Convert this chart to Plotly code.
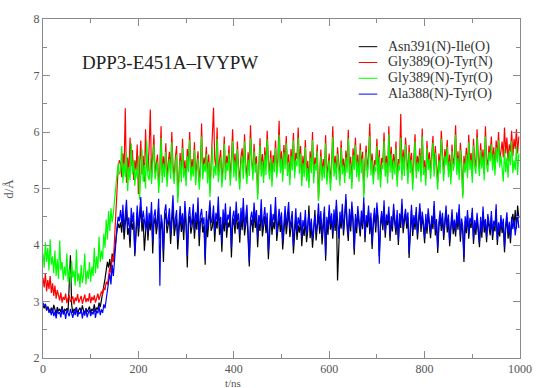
import plotly.graph_objects as go

# d / Angstrom, one sample every 2.5 ns (t = 0 ... 997.5 ns)
STEP_NS = 2.5

asn391_ile = [
    2.93, 2.88, 2.96, 2.84, 2.91, 2.86, 2.82, 2.89, 2.80, 2.94,
    2.85, 2.78, 2.90, 2.83, 2.87, 2.81, 2.92, 2.79, 2.86, 2.84,
    2.88, 2.82, 3.30, 3.82, 2.95, 2.80, 2.87, 2.83, 2.90, 2.78,
    2.85, 2.89, 2.81, 2.93, 2.84, 2.79, 2.88, 2.82, 2.86, 2.91,
    2.80, 2.87, 2.84, 2.95, 2.82, 2.89, 2.86, 2.98, 2.90, 3.02,
    3.10, 3.25, 3.40, 3.55, 3.70, 3.60,
    3.75, 3.55, 3.85, 3.70, 3.92, 4.10, 4.25, 4.38, 4.30,
    4.40, 4.22, 4.55, 4.10, 4.38, 4.62, 4.18, 4.30, 3.95, 4.48,
    4.27, 4.42, 3.80, 4.33, 4.58, 4.15, 4.40, 4.68, 4.24, 4.46,
    3.90, 4.31, 4.52, 4.08, 4.43, 4.26, 4.60, 3.85, 4.37, 4.49,
    4.19, 4.35, 4.66, 4.12, 4.41, 4.28, 3.70, 4.45, 4.57, 4.21,
    4.34, 4.50, 4.02, 4.39, 4.70, 4.16, 4.36, 4.47, 3.92, 4.30,
    4.53, 4.23, 4.42, 4.09, 4.61, 4.32, 3.60, 4.38, 4.51, 4.20,
    4.33, 4.56, 4.11, 4.44, 4.27, 4.65, 3.98, 4.40, 4.48, 4.22,
    4.35, 3.65, 4.46, 4.14, 4.41, 4.63, 4.25, 4.32, 4.54, 4.06,
    4.43, 4.29, 4.69, 4.18, 4.37, 3.88, 4.49, 4.24, 4.58, 4.13,
    4.40, 4.31, 4.52, 3.78, 4.34, 4.47, 4.20, 4.60, 4.28, 4.42,
    4.04, 4.50, 4.26, 4.67, 4.17, 4.38, 4.55, 4.10, 3.62, 4.33,
    4.45, 4.22, 4.59, 4.30, 4.48, 3.96, 4.39, 4.25, 4.64, 4.15,
    4.36, 4.51, 4.21, 4.43, 3.75, 4.32, 4.57, 4.18, 4.41, 4.28,
    4.68, 4.07, 4.34, 4.49, 4.23, 4.44, 3.92, 4.30, 4.53, 4.19,
    4.37, 4.60, 4.14, 4.31, 4.46, 3.85, 4.27, 4.50, 4.09, 4.35,
    4.22, 4.44, 3.98, 4.30, 4.16, 4.48, 4.05, 4.25, 4.70, 4.12,
    4.35, 3.95, 4.24, 4.62, 4.08, 4.39, 4.55, 4.20, 4.47, 4.01,
    4.33, 4.58, 3.72, 4.41, 4.18, 4.60, 4.27, 4.45, 4.11, 4.52,
    4.25, 4.69, 3.37, 4.03, 4.48, 4.29, 4.62, 4.17, 4.43, 4.80,
    4.31, 4.07, 4.55, 4.24, 4.66, 4.38, 3.83, 4.46, 4.21, 4.58,
    4.36, 4.15, 4.50, 4.28, 4.73, 4.05, 4.44, 4.31, 4.61, 4.19,
    4.47, 3.93, 4.36, 4.56, 4.22, 4.65, 4.40, 3.80, 4.33, 4.51,
    4.26, 4.68, 4.13, 4.45, 4.35, 4.57, 4.07, 4.42, 4.24, 4.63,
    4.38, 4.18, 4.53, 4.00, 4.47, 4.30, 4.71, 4.21, 4.41, 4.55,
    4.29, 4.49, 3.77, 4.36, 4.62, 4.16, 4.44, 4.27, 4.58, 4.10,
    4.39, 4.65, 4.23, 4.50, 4.32, 4.03, 4.46, 4.20, 4.56, 4.34,
    4.12, 4.43, 4.28, 4.69, 4.17, 4.37, 3.86, 4.31, 4.52, 4.25,
    4.48, 4.09, 4.40, 4.61, 4.22, 4.45, 3.98, 4.33, 4.54, 4.19,
    4.36, 4.15, 4.49, 4.27, 4.63, 4.06, 4.38, 4.24, 3.70, 4.42,
    4.21, 4.53, 4.11, 4.39, 4.30, 4.57, 4.02, 4.35, 4.18, 4.48,
    4.26, 3.96, 4.41, 4.13, 4.59, 4.22, 4.37, 4.05, 4.46, 4.29,
    4.17, 4.51, 4.09, 4.34, 4.24, 4.63, 4.00, 4.31, 4.15, 4.44,
    4.21, 4.38, 3.87, 4.27, 4.49, 4.11, 4.32, 4.03, 4.41, 4.55,
    4.35, 4.62, 4.29, 4.70, 4.48,
]

gly389_o_tyr_n = [
    3.42, 3.25, 3.50, 3.18, 3.38, 3.22, 3.45, 3.15, 3.32, 3.10,
    3.28, 3.05, 3.20, 3.12, 3.02, 3.16, 2.98, 3.08, 3.03, 3.14,
    2.97, 3.06, 3.11, 2.99, 3.04, 3.09, 2.95, 3.07, 3.01, 3.13,
    2.98, 3.05, 3.10, 2.96, 3.03, 3.12, 2.99, 3.06, 3.00, 3.15,
    2.97, 3.08, 3.02, 3.11, 2.98, 3.05, 3.14, 3.03, 3.09, 3.18,
    3.12, 3.25, 3.20, 3.35, 3.30, 3.45,
    3.60, 3.50, 3.80, 3.70, 4.10, 4.60, 5.10, 5.35, 5.50,
    5.45, 5.20, 5.62, 5.35, 6.42, 5.10, 5.55, 5.28, 5.90, 5.40,
    5.68, 5.15, 5.50, 5.32, 5.78, 4.90, 5.44, 5.85, 5.25, 5.58,
    5.12, 6.05, 5.38, 5.30, 5.72, 6.40, 5.18, 5.52, 5.95, 5.27,
    5.48, 5.60, 5.05, 5.36, 6.10, 5.22, 5.57, 5.33, 5.80, 5.14,
    5.46, 5.65, 5.29, 6.00, 5.41, 5.20, 5.54, 5.75, 4.85, 5.37,
    5.63, 5.24, 5.88, 5.31, 5.50, 5.16, 5.70, 5.43, 6.00, 5.26,
    5.52, 5.34, 5.82, 5.19, 5.47, 5.66, 5.09, 5.39, 6.15, 5.28,
    5.55, 5.42, 5.74, 5.21, 5.60, 4.95, 5.45, 5.87, 6.43, 5.53,
    5.36, 6.08, 5.23, 5.49, 5.68, 5.13, 5.40, 5.92, 5.27, 5.58,
    5.44, 5.76, 5.17, 5.51, 6.05, 5.32, 5.62, 5.25, 5.83, 5.38,
    5.10, 5.56, 5.71, 5.29, 5.96, 5.43, 5.20, 5.64, 5.35, 6.12,
    5.48, 5.26, 5.79, 5.41, 5.57, 4.90, 5.46, 5.89, 5.33, 5.61,
    5.22, 5.73, 5.37, 6.02, 5.50, 5.28, 5.67, 5.14, 5.59, 5.42,
    5.85, 5.31, 5.54, 6.20, 5.39, 5.66, 5.24, 5.77, 5.47, 5.93,
    5.35, 5.60, 5.18, 5.70, 5.45, 5.98, 5.30, 5.63, 5.52, 6.08,
    5.40, 5.75, 5.15, 5.58, 5.34, 5.86, 5.27, 5.49, 5.12, 5.66,
    5.38, 6.00, 5.21, 5.55, 5.43, 5.78, 4.80, 5.36, 5.69, 5.25,
    5.52, 5.30, 5.94, 5.19, 5.47, 5.62, 5.08, 5.41, 6.10, 5.33,
    5.58, 5.26, 5.73, 5.44, 5.16, 5.85, 5.37, 5.53, 5.22, 5.67,
    5.40, 6.04, 5.29, 5.56, 5.11, 5.71, 5.45, 5.90, 5.32, 5.60,
    5.24, 5.80, 5.39, 5.65, 4.92, 5.48, 5.76, 5.31, 5.57, 6.15,
    5.35, 5.62, 5.19, 5.50, 5.42, 5.88, 5.27, 5.68, 5.13, 5.54,
    5.46, 5.99, 5.33, 5.58, 5.21, 6.10, 5.40, 5.74, 5.28, 5.61,
    5.37, 5.83, 5.15, 5.52, 5.44, 6.32, 5.26, 5.69, 5.34, 5.90,
    5.48, 5.20, 5.77, 5.39, 5.63, 5.09, 5.55, 5.96, 5.30, 5.58,
    5.42, 5.71, 5.23, 6.06, 5.36, 5.50, 5.17, 5.84, 5.45, 5.64,
    5.29, 5.56, 5.93, 5.33, 5.75, 5.41, 5.10, 5.62, 5.38, 6.02,
    5.47, 5.25, 5.70, 5.53, 5.86, 5.32, 5.60, 5.19, 5.78, 5.43,
    5.55, 6.12, 5.36, 5.66, 5.27, 5.81, 5.49, 4.88, 5.58, 5.40,
    5.72, 5.30, 5.95, 5.45, 5.63, 5.22, 5.88, 5.51, 5.38, 6.05,
    5.57, 5.34, 5.80, 5.47, 5.69, 5.26, 6.10, 5.52, 5.41, 5.76,
    5.60, 5.92, 5.44, 5.73, 5.35, 5.85, 5.58, 6.00, 5.49, 5.70,
    5.83, 5.55, 6.08, 5.62, 5.90, 5.48, 5.78, 5.65, 6.02, 5.57,
    5.88, 5.70, 6.05, 5.62, 5.92,
]

gly389_n_tyr_o = [
    3.85, 3.60, 4.05, 3.70, 3.95, 3.55, 4.10, 3.65, 3.80, 3.50,
    3.90, 3.45, 3.75, 3.40, 4.08, 3.55, 3.70, 3.38, 3.62, 3.45,
    3.85, 3.35, 3.58, 3.30, 3.72, 3.42, 3.55, 3.28, 3.92, 3.36,
    3.50, 3.25, 3.65, 3.33, 3.48, 3.85, 3.30, 3.55, 3.40, 3.70,
    3.35, 3.62, 3.45, 3.95, 3.50, 3.80, 3.58, 4.15, 3.70, 3.90,
    3.75, 4.20, 3.95, 4.45, 4.10, 4.60,
    4.25, 4.65, 4.40, 4.55, 4.80, 5.05, 5.30, 5.45, 5.25,
    5.30, 5.75, 5.10, 5.45, 5.20, 5.62, 4.95, 5.38, 5.15, 5.80,
    5.25, 5.50, 5.05, 5.35, 5.18, 5.58, 4.80, 5.28, 5.70, 5.12,
    5.42, 5.00, 5.85, 5.22, 5.15, 5.55, 5.08, 5.40, 5.78, 5.16,
    5.33, 5.48, 4.92, 5.24, 5.90, 5.10, 5.44, 5.20, 5.65, 5.03,
    5.30, 5.52, 5.17, 5.82, 5.27, 5.08, 5.41, 5.60, 4.75, 5.23,
    5.49, 5.11, 5.72, 5.19, 5.36, 5.04, 5.57, 5.29, 5.86, 5.14,
    5.39, 5.21, 5.68, 5.06, 5.34, 5.53, 4.98, 5.26, 5.92, 5.16,
    5.43, 5.29, 5.61, 5.09, 5.47, 4.85, 5.32, 5.74, 5.18, 5.40,
    5.23, 5.88, 5.11, 5.37, 5.55, 5.02, 5.28, 5.79, 5.15, 5.45,
    5.31, 5.63, 5.05, 5.38, 5.84, 5.20, 5.50, 5.13, 5.70, 5.25,
    4.98, 5.42, 5.58, 5.17, 5.83, 5.30, 5.08, 5.51, 5.22, 5.89,
    5.35, 5.14, 5.66, 5.28, 5.44, 4.80, 5.33, 5.76, 5.21, 5.48,
    5.10, 5.60, 5.24, 5.87, 5.37, 5.16, 5.54, 5.03, 5.46, 5.29,
    5.72, 5.19, 5.41, 5.95, 5.27, 5.53, 5.12, 5.64, 5.34, 5.80,
    5.22, 5.47, 5.06, 5.58, 5.32, 5.85, 5.18, 5.50, 5.39, 5.90,
    5.26, 5.62, 5.04, 5.45, 5.20, 5.73, 5.13, 5.36, 5.01, 5.55,
    5.27, 5.86, 5.09, 5.43, 5.31, 5.66, 4.78, 5.24, 5.57, 5.14,
    5.40, 5.18, 5.80, 5.07, 5.35, 5.50, 4.96, 5.29, 5.91, 5.21,
    5.46, 5.15, 5.61, 5.32, 5.05, 5.72, 5.25, 5.41, 5.10, 5.55,
    5.28, 5.89, 5.17, 5.44, 4.99, 5.59, 5.33, 5.77, 5.20, 5.48,
    5.12, 5.68, 5.27, 5.53, 4.82, 5.36, 5.64, 5.19, 5.45, 5.93,
    5.23, 5.50, 5.07, 5.38, 5.30, 5.75, 5.15, 5.56, 5.02, 5.42,
    5.34, 5.84, 5.21, 5.46, 5.09, 5.96, 5.28, 5.62, 5.16, 5.49,
    5.25, 5.71, 5.03, 5.40, 5.32, 5.90, 5.14, 5.57, 5.22, 5.78,
    5.36, 5.08, 5.65, 5.27, 5.51, 4.97, 5.43, 5.83, 5.18, 5.46,
    5.30, 5.59, 5.11, 5.92, 5.24, 5.38, 5.05, 5.72, 5.33, 5.52,
    5.17, 5.44, 5.81, 5.21, 5.63, 5.29, 4.98, 5.50, 5.26, 5.88,
    5.35, 5.13, 5.58, 5.41, 5.74, 5.20, 5.48, 5.07, 5.66, 5.31,
    5.43, 5.95, 5.24, 5.54, 5.15, 5.69, 5.37, 4.83, 5.46, 5.28,
    5.60, 5.18, 5.82, 5.33, 5.51, 5.10, 5.76, 5.39, 5.26, 5.90,
    5.45, 5.22, 5.68, 5.35, 5.57, 5.14, 5.92, 5.40, 5.29, 5.64,
    5.48, 5.78, 5.32, 5.61, 5.23, 5.73, 5.46, 5.86, 5.37, 5.58,
    5.36, 5.12, 5.70, 5.29, 5.55, 5.19, 5.66, 5.41, 5.84, 5.27,
    5.50, 5.33, 5.75, 5.24, 5.62,
]

ala388_tyr = [
    2.98, 2.92, 2.95, 2.86, 2.90, 2.80, 2.84, 2.76, 2.88, 2.74,
    2.82, 2.70, 2.86, 2.78, 2.81, 2.72, 2.89, 2.77, 2.83, 2.69,
    2.85, 2.79, 2.74, 2.87, 2.80, 2.71, 2.84, 2.76, 2.90, 2.73,
    2.81, 2.78, 2.86, 2.70, 2.83, 2.75, 2.88, 2.72, 2.80, 2.85,
    2.74, 2.82, 2.77, 2.89, 2.71, 2.84, 2.79, 2.92, 2.76, 2.86,
    2.80, 2.95, 2.88, 3.05, 3.20, 3.35,
    3.50, 3.30, 3.65, 3.45, 3.80, 4.05, 4.30, 4.50, 4.42,
    4.62, 4.38, 4.71, 4.25, 4.55, 4.80, 4.33, 4.49, 4.12, 4.66,
    4.41, 4.58, 3.85, 4.47, 4.70, 4.29, 4.52, 4.85, 4.36, 4.61,
    4.44, 4.27, 4.68, 4.21, 4.57, 4.39, 4.76, 4.05, 4.50, 4.63,
    4.31, 4.48, 4.82, 3.28, 4.54, 4.40, 3.90, 4.59, 4.72, 4.35,
    4.46, 4.65, 4.18, 4.53, 4.88, 4.30, 4.49, 4.62, 4.08, 4.43,
    4.69, 4.37, 4.56, 4.24, 4.78, 4.45, 3.80, 4.51, 4.67, 4.33,
    4.47, 4.73, 4.26, 4.58, 4.41, 4.84, 4.15, 4.52, 4.64, 4.36,
    4.49, 3.75, 4.60, 4.28, 4.55, 4.79, 4.39, 4.46, 4.70, 4.22,
    4.57, 4.43, 4.86, 4.32, 4.50, 4.03, 4.63, 4.38, 4.74, 4.27,
    4.54, 4.45, 4.68, 3.95, 4.48, 4.61, 4.34, 4.77, 4.42, 4.56,
    4.19, 4.66, 4.40, 4.83, 4.30, 4.52, 4.71, 4.25, 3.70, 4.47,
    4.59, 4.36, 4.75, 4.44, 4.62, 4.13, 4.53, 4.39, 4.81, 4.29,
    4.50, 4.67, 4.35, 4.57, 3.88, 4.46, 4.72, 4.31, 4.55, 4.42,
    4.85, 4.20, 4.48, 4.64, 4.37, 4.58, 4.06, 4.43, 4.69, 4.33,
    4.51, 4.76, 4.28, 4.45, 4.60, 3.98, 4.40, 4.65, 4.23, 4.49,
    4.35, 4.58, 4.12, 4.44, 4.30, 4.62, 4.18, 4.38, 4.55, 4.26,
    4.47, 4.10, 4.36, 4.52, 4.21, 4.40, 4.74, 4.32, 4.60, 4.15,
    4.43, 4.68, 3.82, 4.50, 4.29, 4.71, 4.37, 4.56, 4.20, 4.63,
    4.34, 4.80, 4.45, 4.11, 4.59, 4.38, 4.73, 4.26, 4.52, 4.90,
    4.41, 4.17, 4.64, 4.33, 4.77, 4.48, 3.92, 4.55, 4.30, 4.69,
    4.46, 4.24, 4.61, 4.37, 4.84, 4.14, 4.53, 4.40, 4.70, 4.28,
    4.57, 4.02, 4.45, 4.66, 4.31, 4.75, 4.49, 3.67, 4.42, 4.60,
    4.35, 4.79, 4.22, 4.54, 4.44, 4.68, 4.16, 4.51, 4.33, 4.73,
    4.47, 4.27, 4.62, 4.09, 4.56, 4.39, 4.82, 4.30, 4.50, 4.64,
    4.38, 4.58, 3.86, 4.45, 4.71, 4.25, 4.53, 4.36, 4.67, 4.19,
    4.48, 4.74, 4.32, 4.59, 4.41, 4.12, 4.55, 4.29, 4.65, 4.43,
    4.21, 4.52, 4.37, 4.78, 4.26, 4.46, 3.95, 4.40, 4.61, 4.34,
    4.57, 4.18, 4.49, 4.70, 4.31, 4.54, 4.07, 4.42, 4.63, 4.28,
    4.45, 4.24, 4.58, 4.36, 4.72, 4.15, 4.47, 4.33, 3.78, 4.51,
    4.30, 4.62, 4.20, 4.48, 4.39, 4.66, 4.11, 4.44, 4.27, 4.57,
    4.35, 4.05, 4.50, 4.22, 4.68, 4.31, 4.46, 4.14, 4.55, 4.38,
    4.26, 4.60, 4.18, 4.43, 4.33, 4.72, 4.09, 4.40, 4.24, 4.53,
    4.30, 4.47, 3.96, 4.36, 4.58, 4.20, 4.41, 4.12, 4.50, 4.28,
    4.44, 4.17, 4.38, 4.55, 4.30,
]

series_names = ["Asn391(N)-Ile(O)", "Gly389(O)-Tyr(N)", "Gly389(N)-Tyr(O)", "Ala388(N)-Tyr(O)"]
series_values = [asn391_ile, gly389_o_tyr_n, gly389_n_tyr_o, ala388_tyr]
series_colors = ["#000000", "#ff0000", "#00ff00", "#0000ff"]

x_ticks = [0, 200, 400, 600, 800, 1000]
y_ticks = [2, 3, 4, 5, 6, 7, 8]

SERIF = "Liberation Serif"

fig = go.Figure()
for name, vals, col in zip(series_names, series_values, series_colors):
    t_ns = [STEP_NS * i for i in range(len(vals))]
    fig.add_trace(go.Scatter(x=t_ns, y=vals, mode="lines", name=name,
                             line=dict(color=col, width=1.2), showlegend=False))

axis_common = dict(
    showgrid=False, zeroline=False, showline=True, linecolor="#8a8a8a", linewidth=1,
    mirror="allticks", ticks="inside", ticklen=7, tickcolor="#8a8a8a", tickwidth=1,
    tickfont=dict(family=SERIF, size=12, color="#555555"),
    minor=dict(ticks="inside", ticklen=4, tickcolor="#8a8a8a", tickwidth=1, showgrid=False),
)

fig.update_xaxes(range=[0, 1000], tickvals=x_ticks, minor_dtick=100, **axis_common)
fig.update_yaxes(range=[2, 8], tickvals=y_ticks, minor_dtick=0.5, **axis_common)

# legend drawn as line samples + labels in the upper right corner
PLOT_L, PLOT_R, PLOT_T, PLOT_B = 43, 531, 15, 358


def px_x(x):
    return (x - PLOT_L) / (PLOT_R - PLOT_L)


def px_y(y):
    return (PLOT_B - y) / (PLOT_B - PLOT_T)


legend_rows_px = [43, 59, 75, 91]
shapes = []
annotations = []
for name, col, ypx in zip(series_names, series_colors, legend_rows_px):
    shapes.append(dict(type="line", xref="paper", yref="paper",
                       x0=px_x(366), x1=px_x(385), y0=px_y(ypx), y1=px_y(ypx),
                       line=dict(color=col, width=1)))
    annotations.append(dict(text=name, x=px_x(394), y=px_y(ypx), xref="paper", yref="paper",
                            xanchor="left", yanchor="middle", showarrow=False,
                            font=dict(family=SERIF, size=14, color="#333333")))

annotations += [
    dict(text="DPP3-E451A\u2013IVYPW", x=px_x(81), y=px_y(59), xref="paper", yref="paper",
         xanchor="left", yanchor="middle", showarrow=False,
         font=dict(family=SERIF, size=19, color="#222222")),
    dict(text="t/ns", x=px_x(237), y=px_y(383), xref="paper", yref="paper",
         xanchor="center", yanchor="middle", showarrow=False,
         font=dict(family=SERIF, size=11, color="#555555")),
    dict(text="d/\u00c5", x=px_x(8), y=px_y(187), xref="paper", yref="paper",
         xanchor="center", yanchor="middle", showarrow=False, textangle=-90,
         font=dict(family=SERIF, size=13, color="#555555")),
]

fig.update_layout(
    width=544, height=388,
    margin=dict(l=PLOT_L, r=544 - PLOT_R, t=PLOT_T, b=388 - PLOT_B),
    paper_bgcolor="white", plot_bgcolor="white",
    showlegend=False,
    shapes=shapes,
    annotations=annotations,
)

fig.write_html("out.html")
